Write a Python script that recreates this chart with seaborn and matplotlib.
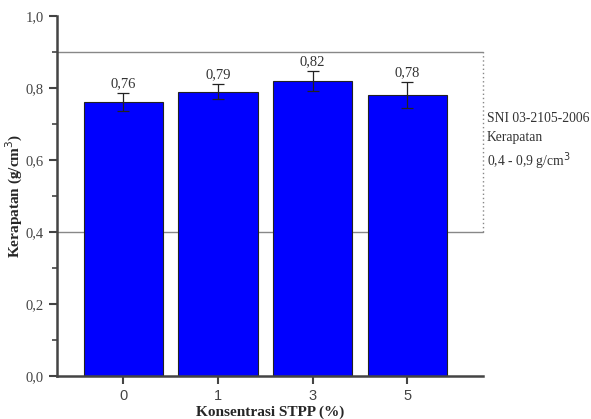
import matplotlib
matplotlib.use("Agg")
import matplotlib.pyplot as plt
import seaborn as sns
import pandas as pd
from matplotlib.ticker import MultipleLocator, FuncFormatter

categories = ["0", "1", "3", "5"]
values = [0.76, 0.79, 0.82, 0.78]
errors = [0.025, 0.021, 0.027, 0.036]
value_labels = ["0,76", "0,79", "0,82", "0,78"]

sns.set_theme(style="white")
plt.rcParams['font.family'] = ['Liberation Serif', 'DejaVu Serif']

df = pd.DataFrame({"x": categories, "y": values})

fig = plt.figure(figsize=(5.91, 4.19), dpi=100)
ax = fig.add_axes([0.0964, 0.1026, 0.8175 - 0.0964, 0.9618 - 0.1026])

sns.barplot(data=df, x="x", y="y", color="#0000FF", saturation=1, width=0.835,
            edgecolor="#222222", linewidth=0.8, ax=ax, errorbar=None)

centers = [p.get_x() + p.get_width() / 2 for p in ax.patches]
ax.errorbar(centers, values, yerr=errors, fmt="none", ecolor="#222222",
            elinewidth=0.9, capsize=4, capthick=0.9, zorder=5)
for cx, v, e, lab in zip(centers, values, errors, value_labels):
    ax.text(cx, v + e + 0.008, lab, ha="center", va="bottom", fontsize=10.5, color="#333333")

ax.set_xlim(-0.70, 3.80)
ax.set_ylim(0, 1.0)

# SNI standard range lines
ax.plot([-0.70, 3.80], [0.9, 0.9], color="#888888", lw=1.0, zorder=0.5, clip_on=False)
ax.plot([-0.70, 3.80], [0.4, 0.4], color="#888888", lw=1.0, zorder=0.5, clip_on=False)
ax.plot([3.80, 3.80], [0.4, 0.9], color="#888888", lw=1.0, ls=(0, (1, 2)), clip_on=False)
ax.text(3.84, 0.715, "SNI 03-2105-2006", fontsize=9.8, color="#333333", va="center")
ax.text(3.84, 0.662, "Kerapatan", fontsize=9.8, color="#333333", va="center")
ax.text(3.84, 0.598, "0,4 - 0,9 g/cm$^3$", fontsize=9.8, color="#333333", va="center")

for s in ["top", "right"]:
    ax.spines[s].set_visible(False)
for s in ["left", "bottom"]:
    ax.spines[s].set_color("#444444")
    ax.spines[s].set_linewidth(1.8)

ax.yaxis.set_major_locator(MultipleLocator(0.2))
ax.yaxis.set_minor_locator(MultipleLocator(0.1))
ax.yaxis.set_major_formatter(FuncFormatter(lambda v, p: f"{v:.1f}".replace(".", ",")))
ax.tick_params(axis="both", which="major", direction="out", length=6, width=1.5,
               color="#444444", labelcolor="#444444", labelsize=10.5, left=True, bottom=True)
ax.tick_params(axis="y", which="minor", direction="out", length=3.5, width=1.2,
               color="#444444", left=True)
for lab in ax.get_xticklabels():
    lab.set_family(["Liberation Sans", "DejaVu Sans"])

ax.set_xlabel("Konsentrasi STPP (%)", fontsize=11, fontweight="bold", labelpad=2)
ax.set_ylabel("Kerapatan (g/cm$^3$)", fontsize=11, fontweight="bold")
ax.yaxis.set_label_coords(-0.075, 0.5)
ax.grid(False)

fig.savefig("out.png", dpi=100)
